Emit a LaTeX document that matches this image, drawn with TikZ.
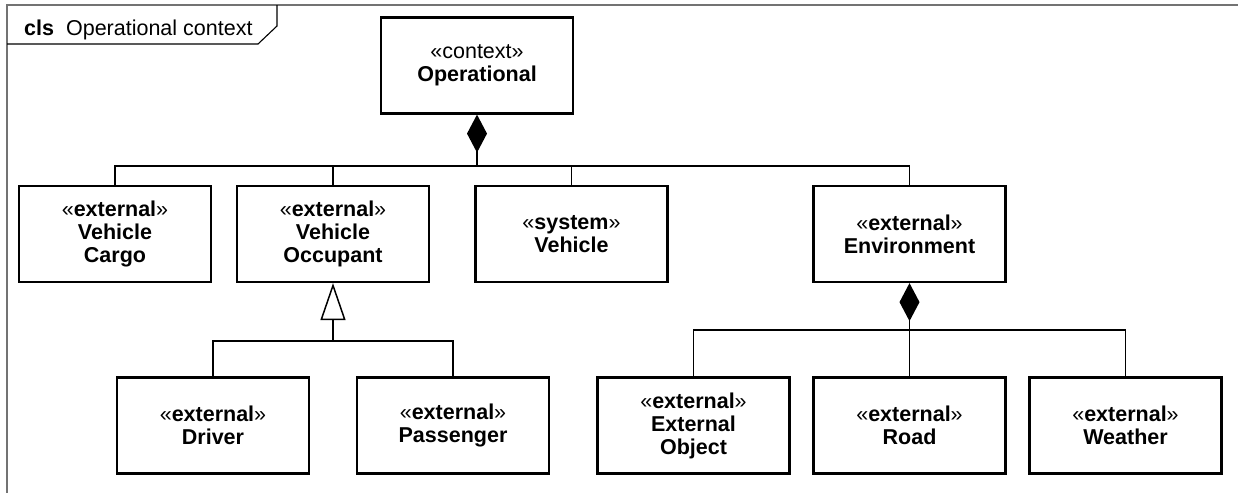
\documentclass[tikz,border=0pt]{standalone}
\usepackage{fontspec}
\setmainfont{Liberation Sans}
\usetikzlibrary{arrows.meta}
\newcommand{\stereo}[1]{{\mdseries«}#1{\mdseries»}}
\begin{document}
\begin{tikzpicture}[x=1pt,y=-1pt,
  block/.style={draw,line width=2.2pt,minimum width=192pt,minimum height=96pt,
    align=center,inner sep=0pt,font=\fontsize{21.5}{23}\selectfont\bfseries},
  conn/.style={line width=1.5pt},
  compose/.style={conn,-{Diamond[length=38pt,width=20pt]}},
  generalize/.style={conn,-{Triangle[open,length=37pt,width=25pt,line width=1.5pt,fill=white]}}
]
\useasboundingbox (0,0) rectangle (1238,493);

% diagram frame and its name tab
\draw[black!55, line width=2pt] (1238,5) -- (7,5) -- (7,493);
\draw[line width=1.1pt] (7,44) -- (258,44) -- (277,26) -- (277,5);
\node[anchor=base west, inner sep=0pt, font=\fontsize{21.5}{23}\selectfont] (title) at (24,35)
  {\textbf{cls}\hspace{12pt}Operational context};

% blocks
\node[block] (op) at (477,65.5) {{\mdseries«context»}\\Operational};

\node[block] (cargo) at (115,234) {\stereo{external}\\Vehicle\\Cargo};
\node[block] (occ)   at (333,234) {\stereo{external}\\Vehicle\\Occupant};
\node[block] (veh)   at (571.5,234) {\stereo{system}\\Vehicle};
\node[block] (env)   at (909.5,234) {\stereo{external}\\Environment};

\node[block] (driver)  at (213,425.5) {\stereo{external}\\Driver};
\node[block] (pass)    at (453,425.5) {\stereo{external}\\Passenger};
\node[block] (extobj)  at (693.5,425.5) {\stereo{external}\\External\\Object};
\node[block] (road)    at (909.5,425.5) {\stereo{external}\\Road};
\node[block] (weather) at (1125.5,425.5) {\stereo{external}\\Weather};

% composition of the operational context
\coordinate (ophub) at (477,166);
\draw[compose] (ophub) -- (op.south);
\draw[conn] (cargo.north) |- (ophub) -| (env.north);
\draw[conn] (occ.north) -- (occ.north |- ophub);
\draw[conn] (veh.north) -- (veh.north |- ophub);

% occupant specializations
\coordinate (genhub) at (333,341);
\draw[generalize] (genhub) -- (occ.south);
\draw[conn] (driver.north) |- (genhub) -| (pass.north);

% composition of the environment
\coordinate (envhub) at (909.5,330);
\draw[compose] (envhub) -- (env.south);
\draw[conn] (extobj.north) |- (envhub) -| (weather.north);
\draw[conn] (road.north) -- (envhub);
\end{tikzpicture}
\end{document}
